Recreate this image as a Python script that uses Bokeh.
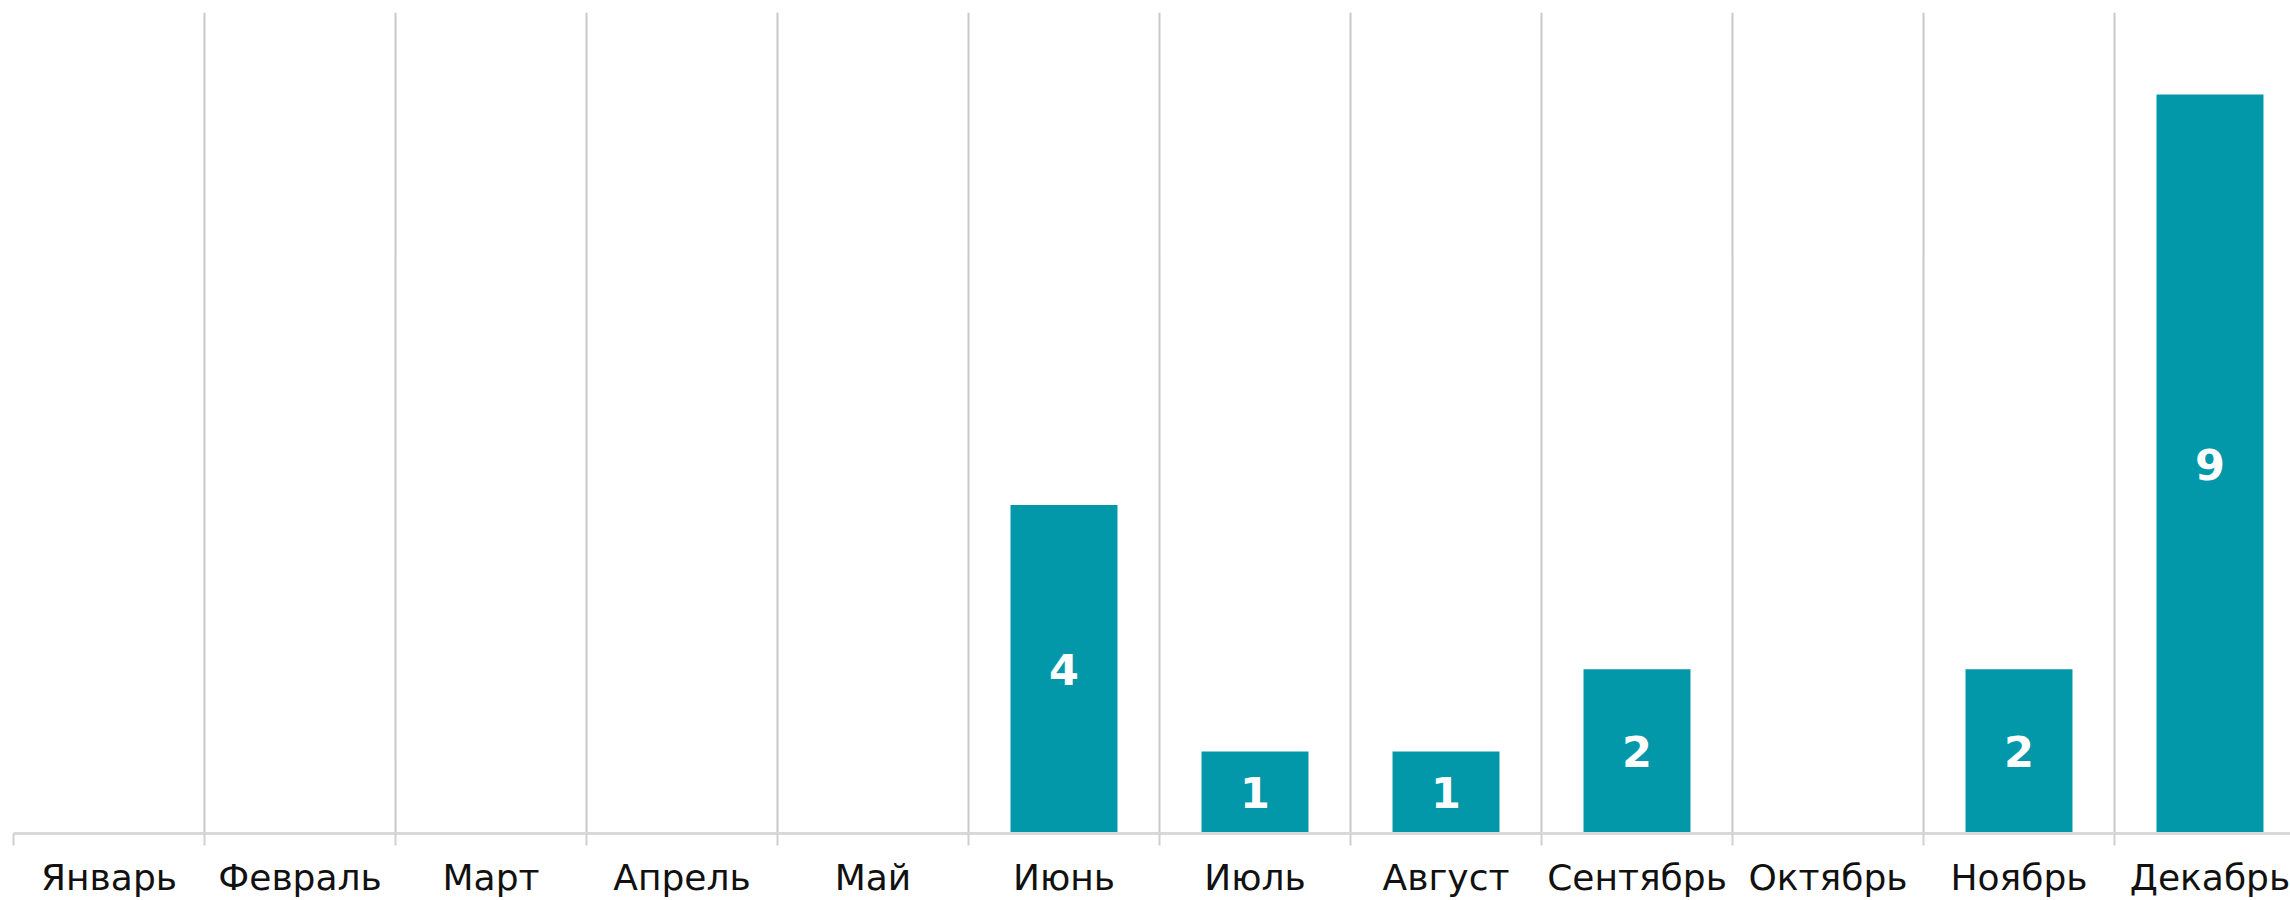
from bokeh.plotting import figure
from bokeh.models import Range1d, FixedTicker
from bokeh.core.properties import value
from bokeh.embed import file_html
from bokeh.resources import INLINE

months = ["Январь", "Февраль", "Март", "Апрель", "Май", "Июнь",
          "Июль", "Август", "Сентябрь", "Октябрь", "Ноябрь", "Декабрь"]
counts = [0, 0, 0, 0, 0, 4, 1, 1, 2, 0, 2, 9]

BAR_COLOR = "#0398a9"
GRID_COLOR = "#c8c8c8"

W, H = 2290, 900
LEFT = 13
UNIT = 191.0
xs = list(range(len(months)))
bounds = [i - 0.5 for i in range(len(months) + 1)]

p = figure(width=W, height=H, output_backend="svg", toolbar_location=None,
           x_range=Range1d(-0.5, -0.5 + (W - LEFT) / UNIT), y_range=Range1d(0, 10),
           min_border_left=LEFT, min_border_right=0, min_border_top=12, min_border_bottom=0)
p.outline_line_color = None
p.background_fill_color = "white"

p.vbar(x=xs, top=counts, width=0.56, fill_color=BAR_COLOR, line_color=None)

lx = [x for x, c in zip(xs, counts) if c > 0]
ly = [c / 2 for c in counts if c > 0]
lt = [str(c) for c in counts if c > 0]
p.text(x=lx, y=ly, text=lt, text_font=value("DejaVu Sans"), text_font_style="bold",
       text_font_size="43px", text_color="white", text_align="center", text_baseline="middle")

p.yaxis.visible = False
p.ygrid.visible = False

ax = p.xaxis[0]
ax.ticker = FixedTicker(ticks=xs, minor_ticks=bounds)
ax.major_label_overrides = {i: m for i, m in enumerate(months)}
ax.major_tick_line_color = None
ax.major_tick_out = 12
ax.major_tick_in = 0
ax.minor_tick_out = 12
ax.minor_tick_in = 0
ax.minor_tick_line_color = "#d0d0d0"
ax.minor_tick_line_width = 2
ax.axis_line_color = "#d9d9d9"
ax.axis_line_width = 3
ax.major_label_standoff = 11
ax.major_label_text_font = "DejaVu Sans"
ax.major_label_text_font_size = "36px"
ax.major_label_text_color = "#111111"

g = p.xgrid[0]
g.ticker = FixedTicker(ticks=bounds)
g.grid_line_color = GRID_COLOR
g.grid_line_width = 2

open("out.html", "w").write(file_html(p, INLINE))
